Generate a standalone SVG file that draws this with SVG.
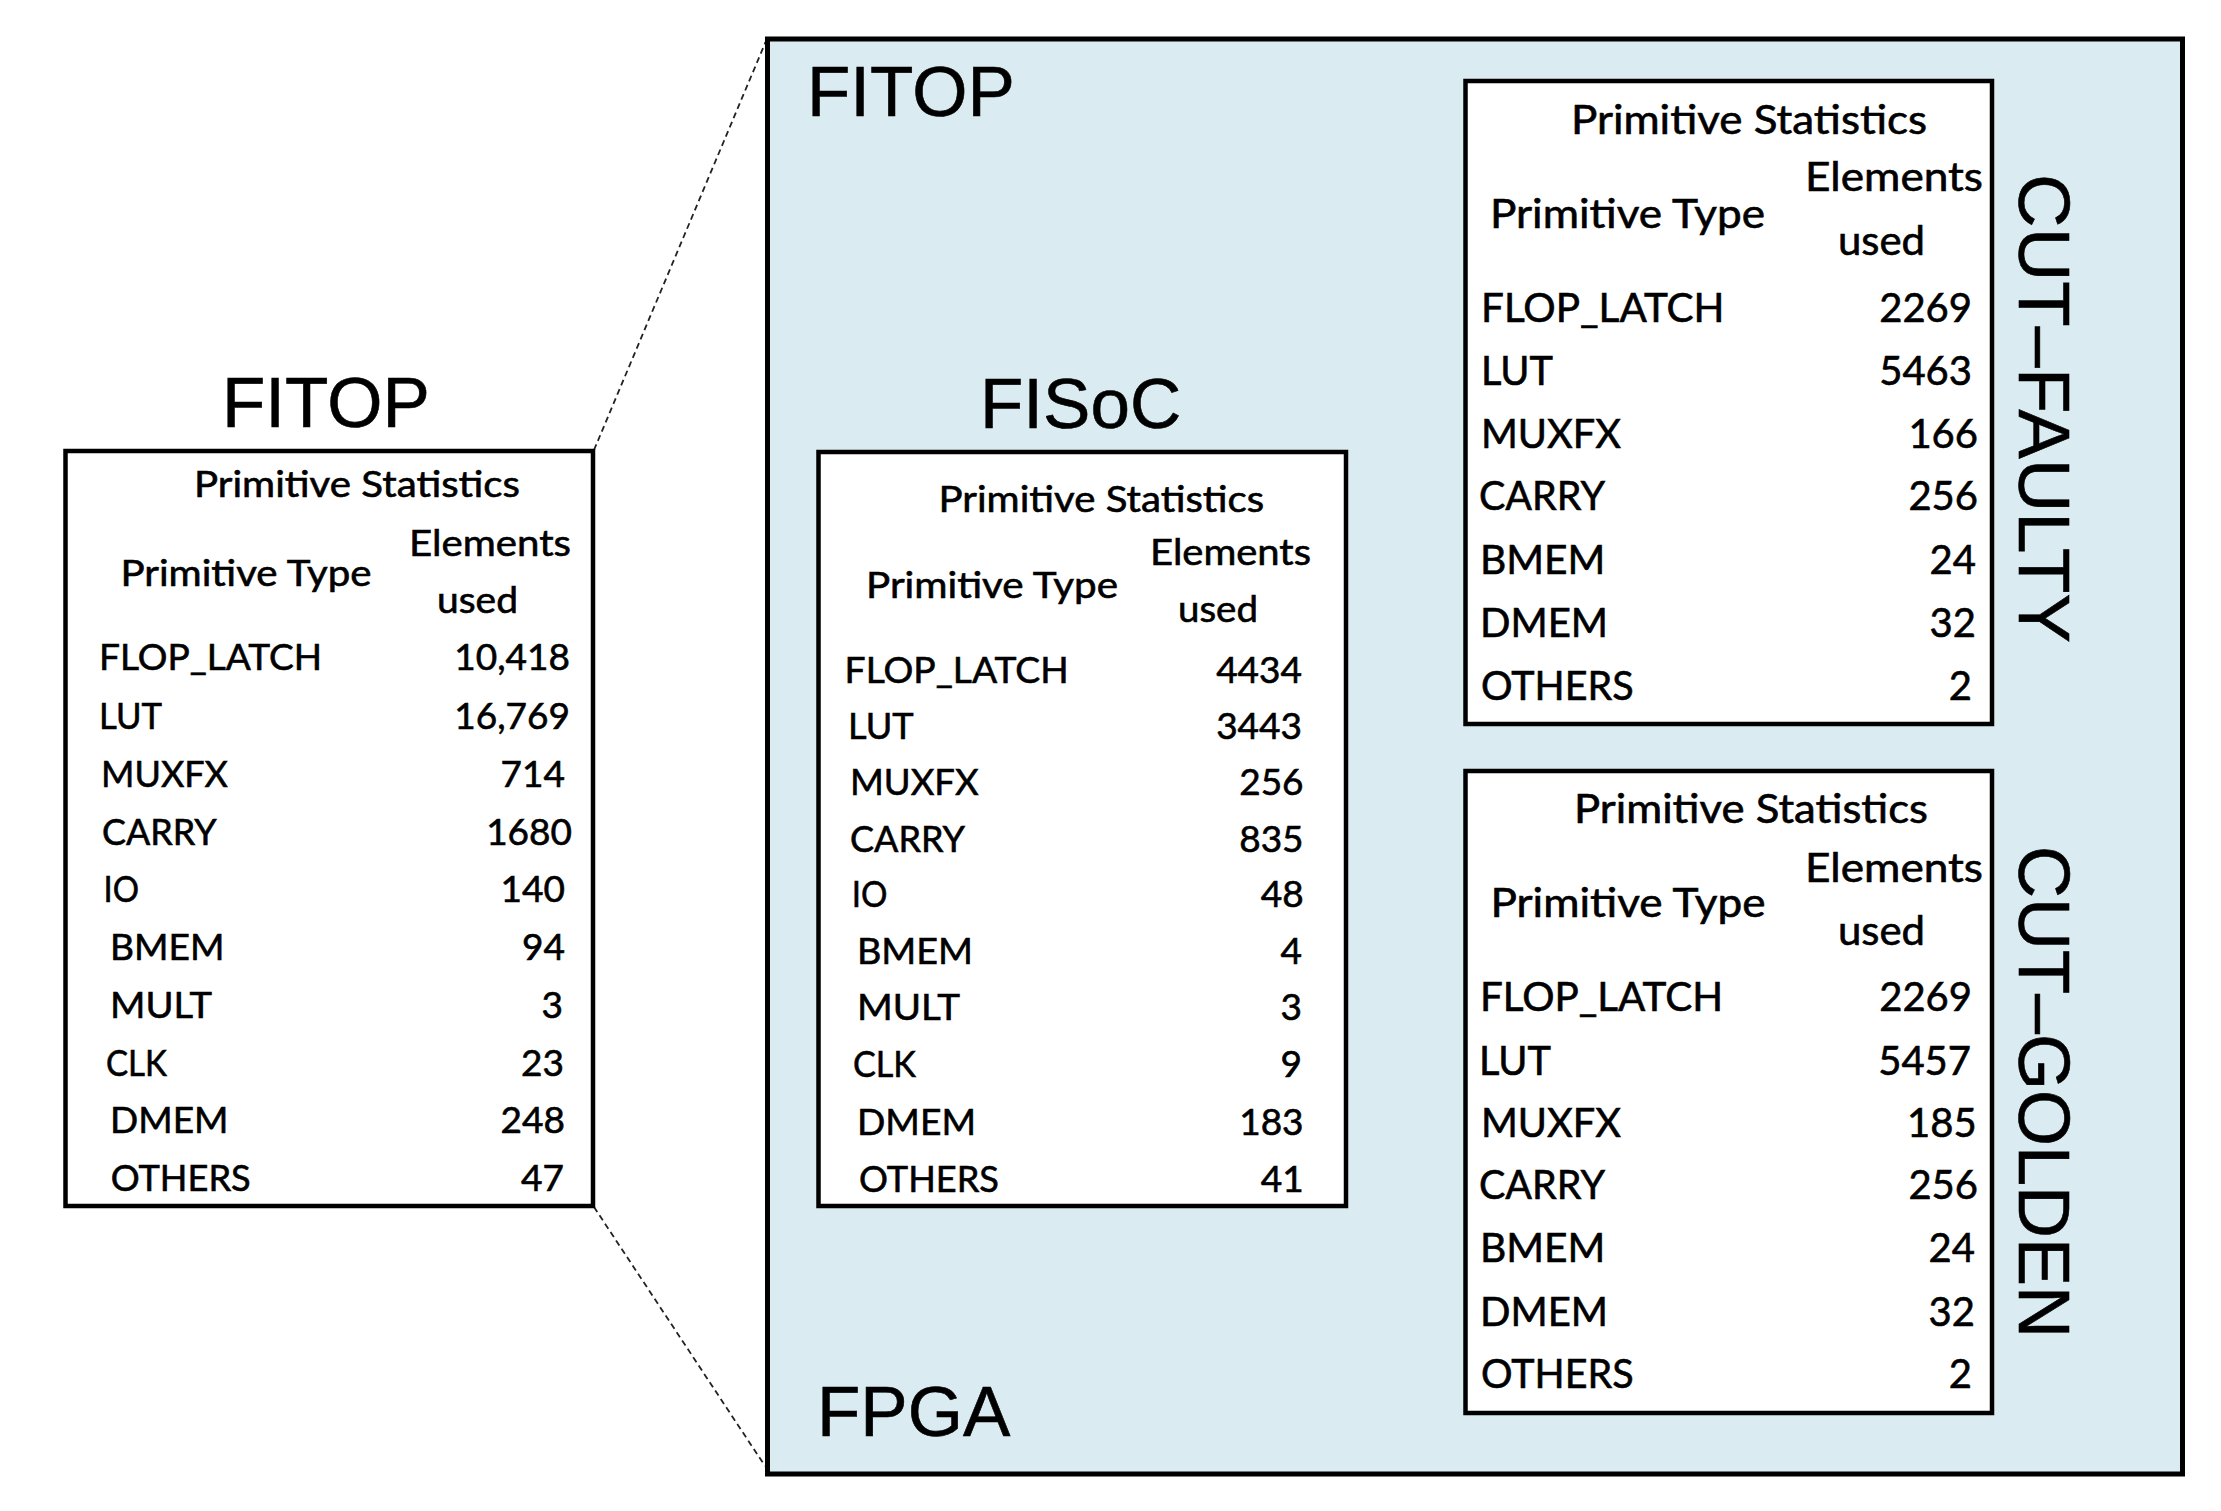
<svg xmlns="http://www.w3.org/2000/svg" width="2221" height="1511" viewBox="0 0 2221 1511">
<style>
.box{fill:#ffffff;stroke:#000;stroke-width:4.5}
.fpga{fill:#DAECF2;stroke:#000;stroke-width:5}
.big{font-family:"Liberation Sans",Arial,sans-serif;font-size:71px;fill:#000;stroke:#000;stroke-width:0.6}
.t{font-family:Lato,"Open Sans",sans-serif;fill:#000;stroke:#000;stroke-width:0.6}
.s{font-size:37px}
.l{font-size:40px}
.n{text-anchor:end}
.dash{stroke:#222;stroke-width:1.8;stroke-dasharray:6 4;fill:none}
</style>
<rect width="2221" height="1511" fill="#ffffff"/>
<g id="connectors">
<line class="dash" x1="594" y1="450" x2="766" y2="41"/>
<line class="dash" x1="594" y1="1207" x2="765" y2="1466"/>
</g>
<g id="fpga">
<rect class="fpga" x="767.5" y="39" width="1415" height="1435"/>
<text class="big" x="807" y="116">FITOP</text>
<text class="big" x="817" y="1436">FPGA</text>
</g>
<g id="fitop-left">
<text class="big" x="222" y="427">FITOP</text>
<rect class="box" x="65.5" y="451" width="527.5" height="755"/>
<g class="t s">
<text x="194" y="497" textLength="326" lengthAdjust="spacingAndGlyphs">Primitive Statistics</text>
<text x="409" y="556" textLength="162" lengthAdjust="spacingAndGlyphs">Elements</text>
<text x="120.5" y="585.5" textLength="251" lengthAdjust="spacingAndGlyphs">Primitive Type</text>
<text x="437" y="613" textLength="81" lengthAdjust="spacingAndGlyphs">used</text>
<text x="99" y="670" textLength="223" lengthAdjust="spacingAndGlyphs">FLOP_LATCH</text>
<text x="99" y="729" textLength="63" lengthAdjust="spacingAndGlyphs">LUT</text>
<text x="101" y="787" textLength="127" lengthAdjust="spacingAndGlyphs">MUXFX</text>
<text x="102" y="844.5" textLength="114.6" lengthAdjust="spacingAndGlyphs">CARRY</text>
<text x="103.5" y="902" textLength="35.5" lengthAdjust="spacingAndGlyphs">IO</text>
<text x="110" y="960" textLength="114.5" lengthAdjust="spacingAndGlyphs">BMEM</text>
<text x="110" y="1018" textLength="102" lengthAdjust="spacingAndGlyphs">MULT</text>
<text x="106" y="1076" textLength="61" lengthAdjust="spacingAndGlyphs">CLK</text>
<text x="110" y="1133" textLength="118.5" lengthAdjust="spacingAndGlyphs">DMEM</text>
<text x="110.7" y="1191" textLength="140" lengthAdjust="spacingAndGlyphs">OTHERS</text>
<text class="n" x="570" y="670">10,418</text>
<text class="n" x="570" y="729">16,769</text>
<text class="n" x="565" y="787">714</text>
<text class="n" x="572" y="844.5">1680</text>
<text class="n" x="565" y="902">140</text>
<text class="n" x="565" y="960">94</text>
<text class="n" x="563" y="1018">3</text>
<text class="n" x="564" y="1076">23</text>
<text class="n" x="565" y="1133">248</text>
<text class="n" x="564" y="1191">47</text>
</g>
</g>
<g id="fisoc">
<text class="big" x="980" y="428">FISoC</text>
<rect class="box" x="818.5" y="452" width="527.5" height="754"/>
<g class="t s">
<text x="938.6" y="512" textLength="325.6" lengthAdjust="spacingAndGlyphs">Primitive Statistics</text>
<text x="1150" y="565" textLength="161" lengthAdjust="spacingAndGlyphs">Elements</text>
<text x="866" y="597.6" textLength="252" lengthAdjust="spacingAndGlyphs">Primitive Type</text>
<text x="1178" y="622" textLength="80" lengthAdjust="spacingAndGlyphs">used</text>
<text x="844.6" y="683" textLength="224" lengthAdjust="spacingAndGlyphs">FLOP_LATCH</text>
<text x="848" y="739" textLength="65.6" lengthAdjust="spacingAndGlyphs">LUT</text>
<text x="850" y="795" textLength="128.6" lengthAdjust="spacingAndGlyphs">MUXFX</text>
<text x="850" y="851.6" textLength="115" lengthAdjust="spacingAndGlyphs">CARRY</text>
<text x="851.8" y="906.6" textLength="35.7" lengthAdjust="spacingAndGlyphs">IO</text>
<text x="857" y="964" textLength="116" lengthAdjust="spacingAndGlyphs">BMEM</text>
<text x="857" y="1020" textLength="103" lengthAdjust="spacingAndGlyphs">MULT</text>
<text x="853" y="1077" textLength="63" lengthAdjust="spacingAndGlyphs">CLK</text>
<text x="857" y="1135" textLength="119" lengthAdjust="spacingAndGlyphs">DMEM</text>
<text x="859" y="1191.5" textLength="140" lengthAdjust="spacingAndGlyphs">OTHERS</text>
<text class="n" x="1302" y="683">4434</text>
<text class="n" x="1302" y="739">3443</text>
<text class="n" x="1303.6" y="795">256</text>
<text class="n" x="1303.6" y="851.6">835</text>
<text class="n" x="1303.6" y="906.6">48</text>
<text class="n" x="1302" y="964">4</text>
<text class="n" x="1302" y="1020">3</text>
<text class="n" x="1302" y="1077">9</text>
<text class="n" x="1303.6" y="1135">183</text>
<text class="n" x="1303.6" y="1191.5">41</text>
</g>
</g>
<g id="cut-faulty">
<rect class="box" x="1465.5" y="81" width="526.5" height="643"/>
<g class="t l">
<text x="1571" y="134" textLength="356" lengthAdjust="spacingAndGlyphs">Primitive Statistics</text>
<text x="1805" y="191" textLength="178" lengthAdjust="spacingAndGlyphs">Elements</text>
<text x="1490" y="228" textLength="275" lengthAdjust="spacingAndGlyphs">Primitive Type</text>
<text x="1838" y="255" textLength="87" lengthAdjust="spacingAndGlyphs">used</text>
<text x="1481" y="322" textLength="243.5" lengthAdjust="spacingAndGlyphs">FLOP_LATCH</text>
<text x="1481" y="385" textLength="72" lengthAdjust="spacingAndGlyphs">LUT</text>
<text x="1481" y="448" textLength="140" lengthAdjust="spacingAndGlyphs">MUXFX</text>
<text x="1479" y="510" textLength="126" lengthAdjust="spacingAndGlyphs">CARRY</text>
<text x="1480" y="574" textLength="125.4" lengthAdjust="spacingAndGlyphs">BMEM</text>
<text x="1480" y="637" textLength="128" lengthAdjust="spacingAndGlyphs">DMEM</text>
<text x="1481" y="700" textLength="152.6" lengthAdjust="spacingAndGlyphs">OTHERS</text>
<text class="n" x="1972" y="322">2269</text>
<text class="n" x="1972" y="385">5463</text>
<text class="n" x="1978" y="448">166</text>
<text class="n" x="1978" y="510">256</text>
<text class="n" x="1976" y="574">24</text>
<text class="n" x="1976" y="637">32</text>
<text class="n" x="1972" y="700">2</text>
</g>
<text class="big" transform="translate(2019,174) rotate(90)" style="font-size:72px" textLength="469" lengthAdjust="spacingAndGlyphs">CUT–FAULTY</text>
</g>
<g id="cut-golden">
<rect class="box" x="1465.5" y="771" width="526.5" height="642"/>
<g class="t l">
<text x="1574" y="823" textLength="354" lengthAdjust="spacingAndGlyphs">Primitive Statistics</text>
<text x="1805" y="882" textLength="178" lengthAdjust="spacingAndGlyphs">Elements</text>
<text x="1490.5" y="917" textLength="275" lengthAdjust="spacingAndGlyphs">Primitive Type</text>
<text x="1838" y="945" textLength="87" lengthAdjust="spacingAndGlyphs">used</text>
<text x="1480" y="1011" textLength="243" lengthAdjust="spacingAndGlyphs">FLOP_LATCH</text>
<text x="1479" y="1075" textLength="72" lengthAdjust="spacingAndGlyphs">LUT</text>
<text x="1481" y="1137" textLength="140" lengthAdjust="spacingAndGlyphs">MUXFX</text>
<text x="1479" y="1199" textLength="126" lengthAdjust="spacingAndGlyphs">CARRY</text>
<text x="1480" y="1262" textLength="125.4" lengthAdjust="spacingAndGlyphs">BMEM</text>
<text x="1480" y="1326" textLength="128" lengthAdjust="spacingAndGlyphs">DMEM</text>
<text x="1481" y="1388" textLength="152.6" lengthAdjust="spacingAndGlyphs">OTHERS</text>
<text class="n" x="1972" y="1011">2269</text>
<text class="n" x="1971" y="1075">5457</text>
<text class="n" x="1976.6" y="1137">185</text>
<text class="n" x="1978" y="1199">256</text>
<text class="n" x="1975" y="1262">24</text>
<text class="n" x="1975" y="1326">32</text>
<text class="n" x="1972" y="1388">2</text>
</g>
<text class="big" transform="translate(2019,846) rotate(90)" style="font-size:72px" textLength="492" lengthAdjust="spacingAndGlyphs">CUT–GOLDEN</text>
</g>
</svg>
